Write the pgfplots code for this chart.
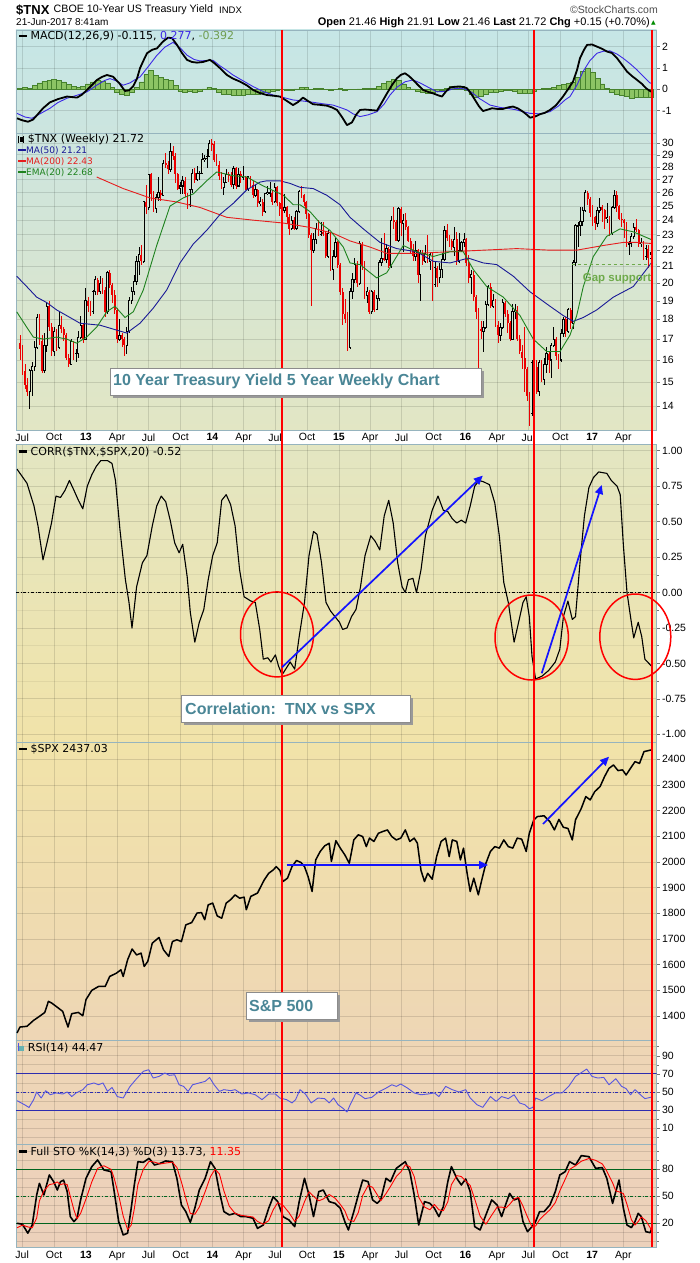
\documentclass[border=0pt]{standalone}
\usepackage{fontspec}
\setmainfont{Liberation Sans}
\newfontfamily\dv{DejaVu Sans}
\usepackage{pgfplots}
\usepackage{pgfplotstable}
\pgfplotsset{compat=1.18}
\usetikzlibrary{arrows.meta}

\definecolor{bord}{RGB}{150,180,190}
\definecolor{bgA}{RGB}{198,230,230}
\definecolor{bgB}{RGB}{204,229,223}
\definecolor{bgC}{RGB}{226,230,196}
\definecolor{bgD}{RGB}{227,230,194}
\definecolor{bgE}{RGB}{241,227,169}
\definecolor{bgF}{RGB}{238,214,181}
\definecolor{bgG}{RGB}{237,211,185}
\definecolor{bgH}{RGB}{236,209,187}
\definecolor{boxtext}{RGB}{74,134,150}
\definecolor{gapgreen}{RGB}{110,170,75}
\definecolor{macdblue}{RGB}{60,40,230}
\definecolor{histfill}{RGB}{140,196,100}
\definecolor{histdraw}{RGB}{70,130,45}
\definecolor{rsiblue}{RGB}{85,85,225}
\definecolor{lineblue}{RGB}{45,45,175}
\definecolor{stogreen}{RGB}{0,100,30}
\definecolor{ma50}{RGB}{25,25,150}
\definecolor{ma200}{RGB}{230,30,30}
\definecolor{ema20}{RGB}{30,130,30}
\definecolor{candred}{RGB}{235,0,0}
\definecolor{arrowblue}{RGB}{20,20,255}
\definecolor{candin}{RGB}{215,230,210}

\pgfplotsset{
  panel/.style={
    scale only axis, width=640.5pt, anchor=north west,
    xmin=16, xmax=656.5,
    xtick={22.2,54.1,85.9,117.1,148.6,180.5,212.4,243.6,275.1,307.0,338.9,370.1,401.6,433.5,465.4,496.9,528.4,560.3,592.2,623.4},
    xticklabels={},
    xmajorgrids=true, ymajorgrids=true,
    major grid style={black, opacity=0.12, line width=0.8pt},
    minor grid style={black, opacity=0.06, line width=0.6pt},
    axis line style={draw=bord, line width=0.9pt},
    xtick pos=left, ytick pos=right, yticklabel pos=right,
    tick align=outside, major tick length=3pt, minor tick length=2pt,
    xtick style={draw=none},
    ytick style={draw=black!55, line width=0.4pt},
    yticklabel style={font=\fontsize{10.5}{12}\selectfont, xshift=-1pt},
    xticklabel style={font=\fontsize{10.5}{12}\selectfont, yshift=3pt},
    clip=true,
  },
  xlabels/.style={xticklabels={Jul,Oct,\textbf{13},Apr,Jul,Oct,\textbf{14},Apr,Jul,Oct,\textbf{15},Apr,Jul,Oct,\textbf{16},Apr,Jul,Oct,\textbf{17},Apr}},
}

\newcommand\lgf{\dv\fontsize{11}{12}\selectfont}
\newcommand\lgs{\dv\fontsize{9}{10}\selectfont}

\begin{document}

\pgfplotstableread{
w o h l c
0 16.8 17.2 16.0 16.5
1 16.5 16.7 15.3 15.5
2 15.5 15.8 14.7 14.9
3 14.9 15.2 14.4 14.6
4 14.6 15.6 13.9 15.5
5 15.5 15.9 14.4 15.7
6 15.7 16.9 15.5 16.6
7 16.6 18.3 16.5 18.1
8 18.1 18.3 16.7 16.9
9 16.9 17.2 15.4 15.5
10 15.5 17.3 15.4 16.7
11 16.7 18.9 16.4 18.7
12 18.7 19.0 17.4 17.6
13 17.6 17.8 16.2 16.4
14 16.4 17.6 16.2 17.4
15 17.4 17.5 16.4 16.6
16 16.6 18.4 16.5 17.7
17 17.7 18.2 17.3 17.5
18 17.5 17.6 16.9 17.2
19 17.2 17.3 16.0 16.1
20 16.1 16.3 15.7 15.8
21 15.8 17.0 15.8 16.9
22 16.9 16.9 16.0 16.2
23 16.2 16.5 15.9 16.3
24 16.3 17.4 16.1 17.1
25 17.1 18.2 17.0 17.7
26 17.7 17.8 16.8 17.0
27 17.0 19.7 17.0 19.0
28 19.0 19.2 18.4 18.7
29 18.7 19.0 18.2 18.4
30 18.4 19.6 18.3 19.5
31 19.5 20.4 19.3 20.2
32 20.2 20.3 19.3 19.5
33 19.5 20.4 19.4 20.0
34 20.0 20.3 19.4 19.6
35 19.6 19.8 18.1 18.4
36 18.4 20.7 18.3 20.6
37 20.6 20.8 19.7 19.9
38 19.9 20.0 18.9 19.3
39 19.3 19.6 18.3 18.5
40 18.5 18.6 16.8 17.0
41 17.0 18.0 16.9 17.2
42 17.2 17.3 16.6 17.0
43 17.0 17.1 16.2 16.7
44 16.7 17.6 16.3 17.4
45 17.4 19.2 17.3 19.0
46 19.0 19.8 18.8 19.5
47 19.5 20.5 19.3 20.1
48 20.1 21.6 19.9 21.3
49 21.3 22.2 20.5 21.7
50 21.7 22.3 21.1 21.3
51 21.3 25.4 21.2 25.3
52 25.3 26.6 24.4 24.9
53 24.9 27.4 24.7 27.4
54 27.4 27.5 25.4 25.9
55 25.9 26.1 24.6 24.8
56 24.8 25.9 24.5 25.6
57 25.6 27.2 25.4 26.0
58 26.0 26.2 25.4 25.8
59 25.8 28.6 25.8 28.3
60 28.3 29.2 27.9 28.2
61 28.2 28.5 27.4 27.8
62 27.8 30.0 27.6 29.3
63 29.3 29.8 28.6 28.9
64 28.9 29.2 26.7 27.4
65 27.4 27.5 26.2 26.3
66 26.3 26.8 25.9 26.5
67 26.5 27.3 25.9 26.9
68 26.9 27.2 25.7 25.9
69 25.9 26.0 24.8 25.1
70 25.1 26.3 24.9 26.2
71 26.2 27.8 26.0 27.5
72 27.5 27.9 26.7 27.0
73 27.0 28.1 26.9 27.5
74 27.5 27.7 27.0 27.5
75 27.5 29.2 27.4 28.6
76 28.6 29.0 28.4 28.7
77 28.7 29.5 27.9 28.9
78 28.9 30.3 28.8 30.0
79 30.0 30.4 29.3 29.9
80 29.9 30.2 28.4 28.6
81 28.6 29.1 28.1 28.2
82 28.2 28.5 27.0 27.3
83 27.3 27.6 26.3 26.4
84 26.4 27.2 25.8 26.8
85 26.8 27.8 26.7 27.4
86 27.4 27.6 26.8 27.3
87 27.3 27.6 26.4 26.6
88 26.6 28.1 26.3 27.9
89 27.9 28.0 26.3 26.5
90 26.5 27.9 26.5 27.4
91 27.4 27.7 26.7 27.2
92 27.2 28.1 27.0 27.2
93 27.2 27.3 26.2 26.2
94 26.2 27.3 26.1 27.2
95 27.2 27.3 26.4 26.6
96 26.6 26.9 25.6 25.8
97 25.8 26.6 25.7 26.2
98 26.2 26.3 24.9 25.2
99 25.2 25.7 25.0 25.3
100 25.3 25.5 24.3 24.6
101 24.6 26.0 24.5 25.9
102 25.9 26.5 25.8 26.0
103 26.0 26.8 25.7 26.0
104 26.0 26.2 25.1 25.3
105 25.3 26.7 25.2 26.4
106 26.4 26.5 25.0 25.2
107 25.2 25.3 24.3 24.8
108 24.8 25.2 24.4 24.7
109 24.7 25.9 24.5 24.9
110 24.9 25.0 23.7 24.2
111 24.2 24.4 23.0 23.4
112 23.4 24.3 23.3 24.0
113 24.0 24.2 23.3 23.4
114 23.4 24.7 23.3 24.6
115 24.6 26.2 24.5 26.1
116 26.1 26.5 25.6 25.8
117 25.8 25.9 25.0 25.3
118 25.3 25.4 24.1 24.4
119 24.4 24.5 22.8 23.0
120 23.0 23.1 18.7 22.0
121 22.0 23.1 21.8 22.7
122 22.7 23.8 22.4 23.4
123 23.4 24.0 22.9 23.0
124 23.0 23.9 22.9 23.2
125 23.2 23.9 22.9 23.1
126 23.1 23.2 21.5 21.6
127 21.6 23.3 21.5 23.1
128 23.1 23.2 20.7 20.8
129 20.8 22.0 20.2 21.6
130 21.6 22.8 21.5 22.5
131 22.5 22.6 20.9 21.1
132 21.1 21.2 19.3 19.5
133 19.5 19.7 17.7 18.3
134 18.3 19.1 17.8 18.0
135 18.0 18.4 16.4 16.6
136 16.6 19.7 16.5 19.5
137 19.5 20.6 19.1 20.2
138 20.2 21.5 20.0 21.1
139 21.1 21.3 19.8 20.0
140 20.0 22.6 19.9 22.4
141 22.4 22.5 20.8 21.1
142 21.1 21.3 19.1 19.3
143 19.3 19.8 18.9 19.5
144 19.5 19.6 18.3 18.4
145 18.4 19.6 18.3 19.5
146 19.5 19.6 18.4 18.5
147 18.5 19.3 18.5 19.1
148 19.1 21.4 19.0 21.2
149 21.2 22.8 21.0 21.5
150 21.5 23.1 21.3 21.4
151 21.4 22.4 21.2 22.1
152 22.1 22.2 20.9 21.0
153 21.0 24.3 20.9 24.0
154 24.0 24.9 23.4 23.9
155 23.9 24.0 22.6 22.6
156 22.6 24.9 22.5 24.8
157 24.8 24.9 22.9 23.8
158 23.8 24.4 21.9 24.0
159 24.0 24.5 23.3 23.5
160 23.5 23.6 22.5 22.6
161 22.6 22.8 21.8 22.0
162 22.0 22.4 21.3 21.6
163 21.6 22.6 21.3 22.0
164 22.0 22.1 20.0 20.5
165 20.5 22.0 19.0 21.8
166 21.8 22.0 21.1 21.3
167 21.3 22.3 21.2 21.8
168 21.8 23.0 21.2 21.3
169 21.3 21.8 20.8 21.7
170 21.7 21.8 19.0 19.9
171 19.9 21.3 19.8 20.9
172 20.9 21.0 19.8 20.3
173 20.3 21.2 20.0 20.8
174 20.8 21.8 20.3 21.4
175 21.4 23.6 21.3 23.3
176 23.3 23.7 22.6 22.8
177 22.8 23.0 22.2 22.6
178 22.6 22.7 22.0 22.2
179 22.2 23.5 21.6 22.7
180 22.7 23.2 21.1 21.3
181 21.3 23.1 21.2 22.0
182 22.0 22.6 21.9 22.5
183 22.5 23.1 22.2 22.7
184 22.7 22.8 21.0 21.2
185 21.2 21.7 20.0 20.3
186 20.3 20.8 19.4 20.5
187 20.5 20.7 19.0 19.2
188 19.2 19.3 18.0 18.4
189 18.4 18.6 15.3 17.5
190 17.5 17.9 17.0 17.4
191 17.4 17.9 16.4 17.6
192 17.6 19.0 17.5 18.8
193 18.8 19.9 18.7 19.8
194 19.8 20.0 18.6 18.7
195 18.7 19.4 18.6 19.0
196 19.0 19.1 17.6 17.7
197 17.7 17.9 16.8 17.2
198 17.2 17.8 16.9 17.6
199 17.6 19.1 17.5 18.9
200 18.9 19.0 18.1 18.3
201 18.3 18.5 17.3 17.8
202 17.8 17.9 16.9 17.0
203 17.0 18.8 17.0 18.4
204 18.4 18.8 18.0 18.5
205 18.5 18.7 16.9 17.0
206 17.0 17.2 16.3 16.4
207 16.4 16.7 15.6 16.1
208 16.1 17.6 14.6 15.6
209 15.6 15.7 14.2 14.4
210 14.4 14.6 13.2 13.7
211 13.7 16.0 13.6 15.9
212 15.9 16.1 15.4 15.7
213 15.7 16.0 14.5 14.6
214 14.6 16.0 14.4 15.9
215 15.9 16.0 15.0 15.1
216 15.1 16.1 14.9 15.8
217 15.8 16.6 15.4 16.3
218 16.3 16.4 15.4 16.0
219 16.0 16.8 15.2 16.7
220 16.7 17.6 16.6 17.0
221 17.0 17.1 16.0 16.2
222 16.2 16.3 15.6 16.0
223 16.0 17.5 15.9 17.3
224 17.3 18.1 17.1 18.0
225 18.0 18.1 17.1 17.4
226 17.4 18.6 17.3 18.5
227 18.5 18.6 17.5 17.8
228 17.8 21.4 17.5 21.2
229 21.2 23.7 21.0 23.6
230 23.6 23.9 22.2 23.6
231 23.6 24.9 22.9 23.9
232 23.9 24.9 23.6 24.7
233 24.7 26.2 24.6 26.0
234 26.0 26.1 25.1 25.5
235 25.5 25.7 24.2 24.5
236 24.5 25.1 23.6 24.2
237 24.2 24.3 23.3 23.8
238 23.8 24.9 23.5 24.7
239 24.7 25.6 24.5 24.9
240 24.9 25.1 23.9 24.7
241 24.7 24.8 23.4 24.1
242 24.1 25.2 23.8 24.2
243 24.2 24.3 22.9 23.1
244 23.1 25.0 23.0 24.9
245 24.9 26.2 24.8 25.8
246 25.8 26.1 24.6 25.0
247 25.0 25.1 24.0 24.1
248 24.1 24.5 23.5 24.0
249 24.0 24.1 22.8 23.8
250 23.8 23.9 22.2 22.4
251 22.4 22.6 21.7 22.4
252 22.4 23.1 22.2 22.9
253 22.9 23.8 22.7 23.5
254 23.5 24.1 23.2 23.3
255 23.3 23.4 22.2 22.4
256 22.4 22.8 22.2 22.5
257 22.5 22.6 21.4 21.6
258 21.6 22.3 21.4 22.1
259 22.1 22.3 20.9 21.5
260 21.5 21.9 21.5 21.7
}\tnx

\pgfplotstableread{
p v
16.7 20.4
26.7 19.8
36.7 19.2
46.7 18.9
56.7 18.5
70 18.1
80 17.8
100 17.7
113.3 17.5
126.7 17.3
140 17.8
153.3 18.6
166.7 19.6
180 21.2
193.3 22.4
206.7 23.3
220 24.4
233.3 25.2
246.7 26.2
260 26.8
266.7 26.9
280 26.9
290 26.7
300 26.4
313.3 26.3
326.7 25.8
340 25.1
350 24.2
363.3 23.4
380 22.5
396.7 22.1
416.7 21.9
433.3 21.3
450 21.2
468.3 21.5
483.3 21.2
496.7 21.1
513.3 20.4
530 19.5
550 18.7
563.3 18.2
573.3 17.9
583.3 18.1
596.7 18.5
613.3 19.2
633.3 19.8
651.5 21.21
}\maL

\pgfplotstableread{
p v
96.7 27.2
123.3 26.3
150 25.6
176.7 25.3
200 24.9
226.7 24.2
253.3 24.0
283.3 23.8
310 23.5
333.3 23.1
350 22.6
370 22.2
386.7 21.8
416.7 21.8
450 21.9
483.3 22.0
516.7 22.1
550 22.0
576.7 22.0
603.3 22.3
623.3 22.5
636.7 22.5
651.5 22.43
}\maLL

\pgfplotstableread{
p v
16.7 18.4
26.7 17.6
33.3 17.1
43.3 17.0
56.7 17.1
66.7 17.0
76.7 16.8
86.7 17.1
96.7 17.6
106.7 18.4
115 18.7
125 18.1
133.3 18.4
143.3 19.6
156.7 22.3
170 25.0
183.3 25.6
193.3 25.9
206.7 26.9
216.7 27.6
233.3 27.3
246.7 27.2
263.3 26.5
283.3 25.8
293.3 25.1
300 25.1
310 24.6
320 23.8
330 23.3
343.3 22.2
350 21.2
360 21.1
376.7 20.3
386.7 20.6
403.3 22.3
416.7 21.9
433.3 21.6
450 21.9
463.3 21.9
473.3 20.8
486.7 19.8
503.3 19.2
520 18.2
533.3 17.0
546.7 16.4
560 16.4
570 17.2
576.7 18.2
583.3 19.8
593.3 21.6
606.7 22.9
620 23.4
633.3 23.2
651.5 22.68
}\ema

\pgfplotstableread[row sep=\\]{v\\0.05\\0.08\\0.05\\0.2\\0.3\\0.38\\0.42\\0.45\\0.42\\0.35\\0.22\\0.12\\0.1\\0.12\\0.25\\0.35\\0.42\\0.4\\0.3\\0.1\\-0.12\\-0.25\\-0.3\\-0.15\\0.1\\0.35\\0.7\\0.88\\0.65\\0.55\\0.45\\0.42\\0.2\\-0.08\\-0.12\\-0.1\\-0.15\\-0.1\\0.02\\0.1\\0.05\\-0.15\\-0.22\\-0.25\\-0.28\\-0.3\\-0.28\\-0.25\\-0.25\\-0.22\\-0.15\\-0.12\\-0.08\\-0.05\\-0.02\\-0.04\\-0.05\\0.02\\0.1\\0.08\\-0.02\\0.03\\0.05\\-0.02\\-0.05\\0.0\\0.03\\-0.05\\-0.02\\0.0\\0.02\\0.03\\0.05\\0.05\\0.12\\0.28\\0.4\\0.48\\0.42\\0.25\\0.1\\0.02\\-0.08\\-0.15\\-0.18\\-0.15\\-0.1\\-0.05\\0.05\\0.12\\0.15\\0.12\\-0.05\\-0.25\\-0.36\\-0.32\\-0.25\\-0.15\\-0.12\\-0.1\\-0.05\\-0.05\\-0.1\\-0.18\\-0.2\\-0.18\\-0.08\\-0.02\\0.03\\0.05\\0.1\\0.18\\0.22\\0.28\\0.35\\0.55\\0.85\\1.0\\0.8\\0.5\\0.25\\0.05\\-0.12\\-0.25\\-0.3\\-0.35\\-0.4\\-0.38\\-0.37\\-0.38\\-0.39\\}\hist

\begin{tikzpicture}[x=1pt,y=1pt]
\path[use as bounding box, fill=white] (0,0) rectangle (700,-1263);

% ---------------- MACD ----------------
\begin{axis}[panel, at={(16pt,-30pt)}, height=103pt,
  ymin=-2.05, ymax=2.78, ytick={-1,0,1,2}, yticklabels={-1,0,1,2},
  axis background/.style={top color=bgA, bottom color=bgB}]
\addplot[ybar, bar width=4.85pt, fill=histfill, draw=histdraw, line width=0.5pt]
  table[x expr=20.1+4.851*\coordindex, y=v] {\hist};
\addplot[macdblue, line width=0.9pt] coordinates {(17,-1.13)(25,-1.3)(32,-1.36)(40,-1.15)(50,-0.89)(58,-0.62)(67,-0.42)(77,-0.28)(87,-0.12)(97,0.2)(105,0.42)(110,0.5)(116,0.4)(123,0.19)(130,0.3)(135,0.45)(140,0.58)(148,1.05)(157,1.6)(165,1.98)(173,2.2)(180,1.95)(187,1.6)(194,1.4)(200,1.33)(207,1.35)(213,1.36)(220,1.1)(227,0.88)(233,0.67)(243,0.4)(253,0.13)(263,-0.1)(273,-0.27)(283,-0.38)(293,-0.5)(303,-0.55)(313,-0.61)(323,-0.68)(333,-0.74)(340,-0.85)(347,-0.97)(353,-1.15)(360,-1.28)(368,-1.2)(377,-1.05)(384,-0.7)(390,-0.27)(397,0.1)(405,0.35)(413,0.44)(420,0.3)(428,0.1)(437,-0.12)(445,-0.1)(453,0.02)(460,0.05)(466,0.0)(472,-0.15)(480,-0.45)(490,-0.74)(500,-0.85)(507,-0.89)(515,-0.95)(523,-1.05)(530,-1.13)(540,-1.15)(550,-1.05)(558,-0.8)(565,-0.5)(570,-0.34)(577,0.2)(583,0.83)(590,1.35)(597,1.69)(603,1.78)(610,1.8)(617,1.65)(623,1.46)(630,1.2)(637,0.91)(643,0.62)(650,0.3)(651.5,0.277)};
\addplot[black, line width=1.8pt, line join=round] coordinates {(17,-1.36)(22,-1.45)(28,-1.52)(33,-1.42)(36.7,-1.23)(43,-0.89)(50,-0.61)(58,-0.46)(67,-0.34)(77,-0.39)(82,-0.25)(87,-0.03)(92,0.2)(97,0.44)(102,0.58)(107,0.67)(113,0.59)(119,0.3)(125,-0.08)(129,-0.05)(133,0.13)(137,0.5)(140,0.99)(144,1.4)(147,1.69)(152,1.85)(157,1.92)(163,2.24)(168,2.42)(172,2.4)(177,2.08)(182,1.7)(187,1.38)(192,1.28)(197,1.25)(203,1.28)(210,1.38)(215,1.2)(220,0.99)(227,0.67)(233,0.5)(240,0.36)(247,0.18)(253,-0.03)(260,-0.18)(267,-0.27)(273,-0.3)(280,-0.34)(287,-0.55)(293,-0.74)(298,-0.6)(303,-0.39)(308,-0.55)(313,-0.7)(320,-0.73)(327,-0.77)(332,-0.85)(337,-0.97)(342,-1.3)(347,-1.68)(352,-1.55)(356,-1.2)(360,-0.97)(365,-0.95)(370,-0.97)(377,-1.0)(382,-0.6)(387,-0.19)(392,0.2)(397,0.52)(401,0.68)(405,0.75)(409,0.62)(413,0.44)(418,0.2)(423,-0.03)(428,-0.12)(433,-0.19)(438,-0.28)(442,-0.34)(446,-0.1)(450,0.08)(455,0.12)(460,0.13)(464,0.1)(467,0.05)(471,-0.2)(475,-0.5)(479,-0.8)(483,-1.02)(488,-0.95)(492,-0.89)(497,-0.92)(503,-0.92)(508,-0.85)(513,-0.81)(518,-0.9)(523,-1.05)(527,-1.2)(530,-1.33)(535,-1.28)(540,-1.17)(545,-1.1)(550,-0.97)(556,-0.75)(563,-0.34)(568,0.0)(573,0.36)(577,0.9)(580,1.46)(584,1.85)(587,2.08)(592,2.1)(597,2.0)(602,1.9)(607,1.77)(612,1.7)(617,1.46)(622,1.15)(627,0.83)(632,0.62)(637,0.44)(642,0.25)(646,0.05)(650,-0.08)(651.5,-0.115)};
\end{axis}

% ---------------- PRICE ----------------
\begin{axis}[panel, xlabels, at={(16pt,-133pt)}, height=297pt,
  ymin=2.56955, ymax=3.43076,
  ytick={2.639057,2.708050,2.772589,2.833213,2.890372,2.944439,2.995732,3.044522,3.091042,3.135494,3.178054,3.218876,3.258097,3.295837,3.332205,3.367296,3.401197},
  yticklabels={14,15,16,17,18,19,20,21,22,23,24,25,26,27,28,29,30},
  axis background/.style={top color=bgB, bottom color=bgC}]
\addplot[draw=none, mark=none, forget plot,
  restrict expr to domain={\thisrow{c}-\thisrow{o}}{-1000:-0.0001},
  error bars/.cd, y dir=both, y explicit, error mark=none,
  error bar style={draw=candred, line width=0.7pt}]
  table[x expr=20.1+2.4255*\thisrow{w}, y expr={(ln(\thisrow{h})+ln(\thisrow{l}))/2}, y error expr={(ln(\thisrow{h})-ln(\thisrow{l}))/2}] {\tnx};
\addplot[draw=none, mark=none, forget plot,
  restrict expr to domain={\thisrow{c}-\thisrow{o}}{0:1000},
  error bars/.cd, y dir=both, y explicit, error mark=none,
  error bar style={draw=black, line width=0.7pt}]
  table[x expr=20.1+2.4255*\thisrow{w}, y expr={(ln(\thisrow{h})+ln(\thisrow{l}))/2}, y error expr={(ln(\thisrow{h})-ln(\thisrow{l}))/2}] {\tnx};
\addplot[draw=none, mark=none, forget plot,
  restrict expr to domain={\thisrow{c}-\thisrow{o}}{-1000:-0.0001},
  error bars/.cd, y dir=both, y explicit, error mark=none,
  error bar style={draw=candred, line width=1.8pt}]
  table[x expr=20.1+2.4255*\thisrow{w}, y expr={(ln(\thisrow{o})+ln(\thisrow{c}))/2}, y error expr={abs(ln(\thisrow{c})-ln(\thisrow{o}))/2}] {\tnx};
\addplot[draw=none, mark=none, forget plot,
  restrict expr to domain={\thisrow{c}-\thisrow{o}}{0:1000},
  error bars/.cd, y dir=both, y explicit, error mark=none,
  error bar style={draw=black, line width=2.3pt}]
  table[x expr=20.1+2.4255*\thisrow{w}, y expr={(ln(\thisrow{o})+ln(\thisrow{c}))/2}, y error expr={abs(ln(\thisrow{c})-ln(\thisrow{o}))/2+0.0015}] {\tnx};
\addplot[draw=none, mark=none, forget plot,
  restrict expr to domain={\thisrow{c}-\thisrow{o}}{0.0001:1000},
  error bars/.cd, y dir=both, y explicit, error mark=none,
  error bar style={draw=candin, line width=0.8pt}]
  table[x expr=20.1+2.4255*\thisrow{w}, y expr={(ln(\thisrow{o})+ln(\thisrow{c}))/2}, y error expr={max(abs(ln(\thisrow{c})-ln(\thisrow{o}))/2-0.0015,0)}] {\tnx};
\addplot[ma200, line width=0.9pt] table[x=p, y expr=ln(\thisrow{v})] {\maLL};
\addplot[ma50, line width=0.9pt] table[x=p, y expr=ln(\thisrow{v})] {\maL};
\addplot[ema20, line width=0.9pt] table[x=p, y expr=ln(\thisrow{v})] {\ema};
\addplot[gapgreen, dashed, line width=1.6pt] coordinates {(571.7,3.04927) (656.5,3.04927)};
\end{axis}

% ---------------- CORR ----------------
\begin{axis}[panel, at={(16pt,-444pt)}, height=298pt,
  ymin=-1.054, ymax=1.047,
  ytick={-1,-0.75,-0.5,-0.25,0,0.25,0.5,0.75,1},
  yticklabels={-1.00,-0.75,-0.50,-0.25,0.00,0.25,0.50,0.75,1.00},
  minor ytick={-0.875,-0.625,-0.375,-0.125,0.125,0.375,0.625,0.875},
  yminorgrids=true,
  axis background/.style={top color=bgD, bottom color=bgE}]
\addplot[black, dash dot, line width=0.8pt] coordinates {(16,0) (656.5,0)};
\addplot[black, line width=1.1pt, line join=round] coordinates {(17,0.87)(27,0.77)(34,0.61)(38,0.47)(43,0.23)(47,0.35)(51.5,0.49)(56,0.68)(60.5,0.67)(65,0.72)(69.4,0.79)(74,0.72)(78.4,0.65)(82.8,0.59)(87.3,0.75)(91.8,0.83)(96.3,0.89)(100.8,0.93)(107.5,0.93)(112,0.91)(115.5,0.79)(120,0.44)(125.4,0.09)(129,-0.07)(132,-0.25)(136.6,0.04)(142.4,0.21)(146.9,0.26)(152.3,0.47)(156.7,0.61)(161.2,0.68)(165.7,0.64)(170.2,0.51)(174.7,0.35)(179.1,0.28)(182.7,0.34)(187.2,0.11)(190.3,-0.14)(194.8,-0.35)(199.3,-0.21)(203.8,-0.12)(208.2,0.09)(212.7,0.26)(217.2,0.35)(221.7,0.65)(226.2,0.69)(230.6,0.62)(235.1,0.47)(239.6,0.16)(244.1,-0.03)(250.8,-0.06)(255.3,-0.07)(259.7,-0.26)(263.3,-0.47)(267.8,-0.46)(270.9,-0.49)(275.4,-0.44)(278.6,-0.52)(282.1,-0.58)(286.6,-0.53)(290.2,-0.49)(294.7,-0.54)(299.2,-0.31)(304.5,-0.07)(309,0.26)(313.5,0.43)(317,0.41)(321.5,0.21)(326,-0.07)(330.5,-0.13)(335,-0.17)(339.5,-0.21)(342.6,-0.26)(347,-0.25)(351.5,-0.17)(356,-0.12)(360.5,0.04)(365,0.26)(370.8,0.40)(375.3,0.36)(379.8,0.30)(384.2,0.54)(388.7,0.65)(393.2,0.49)(397.7,0.21)(402.1,0.04)(405.3,0.0)(408.4,0.09)(412.9,0.10)(416.5,0.0)(421,0.16)(425.4,0.40)(432.2,0.58)(438,0.68)(443.3,0.58)(447.8,0.57)(452.3,0.52)(456.8,0.49)(461.3,0.51)(465.7,0.49)(470.2,0.61)(474.7,0.75)(479.2,0.79)(483.7,0.78)(489.5,0.76)(494.8,0.63)(499.3,0.40)(503.8,0.07)(508.3,-0.07)(514.1,-0.35)(518.6,-0.21)(523,-0.07)(526.2,-0.03)(529.3,-0.17)(532,-0.45)(535.6,-0.61)(541.9,-0.59)(548.6,-0.55)(555.3,-0.49)(559.8,-0.40)(563.4,-0.17)(567.9,-0.06)(572.3,-0.19)(575.5,-0.17)(580,0.21)(584.4,0.54)(588.9,0.74)(593.4,0.81)(598.7,0.85)(606.8,0.84)(611.3,0.79)(617.1,0.75)(620.2,0.69)(623.4,0.33)(627,0.0)(630.5,-0.17)(633.7,-0.32)(638.2,-0.21)(641.7,-0.31)(644.9,-0.47)(651.6,-0.52)};
\end{axis}

% ---------------- SPX ----------------
\begin{axis}[panel, at={(16pt,-742.7pt)}, height=297.3pt,
  ymin=1306.5, ymax=2464.7,
  ytick={1400,1500,1600,1700,1800,1900,2000,2100,2200,2300,2400},
  yticklabels={1400,1500,1600,1700,1800,1900,2000,2100,2200,2300,2400},
  axis background/.style={top color=bgE, bottom color=bgF}]
\addplot[black, line width=1.5pt, line join=round] coordinates {(17,1334)(20,1357)(27,1360)(33.6,1383)(40.3,1401)(44.8,1414)(48.4,1457)(51.5,1451)(56,1438)(62.7,1418)(68,1357)(71.7,1409)(78.4,1414)(82.8,1401)(86,1464)(91.8,1500)(98.5,1515)(105.2,1515)(109.7,1554)(116.4,1567)(120.9,1580)(123.2,1554)(127.6,1619)(132.1,1661)(136.6,1638)(141.1,1645)(144.2,1593)(147.8,1613)(152.3,1684)(159,1706)(163.5,1658)(168.8,1632)(172.4,1690)(176.9,1697)(181.4,1690)(185.8,1755)(191.7,1764)(197,1801)(201.5,1803)(204.7,1775)(208.2,1833)(212.7,1840)(217.2,1790)(221.7,1781)(226.2,1840)(230.6,1853)(235.1,1872)(239.6,1859)(244.1,1863)(246.3,1814)(250.8,1866)(257.5,1879)(264.2,1930)(268.7,1956)(273.2,1969)(276.3,1982)(279.9,1967)(283,1924)(287.5,1937)(292,1982)(296.5,2006)(301,1998)(304.5,1982)(308.1,1943)(312.1,1885)(315.7,2008)(320.2,2041)(324.7,2063)(329.2,2073)(331.4,2002)(335.9,2083)(340.3,2054)(344.8,2028)(349.3,1995)(353.8,2086)(358.3,2106)(362.7,2099)(366.3,2060)(369.5,2093)(373.9,2080)(378.4,2112)(382.9,2119)(387.4,2125)(391.8,2099)(396.3,2086)(400.8,2093)(405.3,2125)(409.8,2080)(414.2,2093)(417.4,2073)(421,1967)(424.5,1924)(427.7,1956)(432.2,1933)(436.6,2021)(441.1,2080)(445.6,2093)(449.2,2021)(452.3,2086)(456.8,2080)(460.4,2008)(463.5,2054)(467.1,1956)(470.2,1885)(473.8,1937)(478.3,1872)(481.4,1924)(485.9,1995)(490.4,2041)(494.8,2060)(499.3,2054)(503.8,2086)(508.3,2060)(512.8,2054)(517.2,2093)(521.7,2089)(526.2,2041)(529.3,2112)(533.8,2164)(537.4,2177)(544.1,2180)(549.9,2157)(554.4,2125)(558.9,2166)(563.4,2135)(567.9,2131)(572.3,2086)(575.5,2164)(581.3,2209)(585.8,2255)(590.2,2242)(594.7,2274)(600.1,2294)(604.6,2333)(609,2365)(613.5,2378)(618,2356)(622.5,2359)(626.1,2339)(630.5,2365)(635,2391)(639.5,2384)(644,2430)(648.4,2434)(651.6,2437)};
\end{axis}

% ---------------- RSI ----------------
\begin{axis}[panel, at={(16pt,-1040pt)}, height=104.3pt,
  ymin=-7.6, ymax=107.3,
  ytick={10,30,50,70,90}, yticklabels={10,30,50,70,90},
  minor ytick={0,20,40,60,80,100}, yminorgrids=true,
  minor grid style={black, opacity=0.12, line width=0.8pt},
  axis background/.style={top color=bgF, bottom color=bgG}]
\addplot[lineblue, line width=1.1pt] coordinates {(16,70) (656.5,70)};
\addplot[lineblue, line width=1.1pt] coordinates {(16,30) (656.5,30)};
\addplot[lineblue, dash dot, line width=1pt] coordinates {(16,50) (656.5,50)};
\addplot[rsiblue, line width=0.9pt, line join=round] coordinates {(17,40.5)(24.6,36)(29,33)(33.6,41.5)(36.7,50)(41.2,43.4)(45.7,51.5)(50.2,47)(56,49)(62.7,47.8)(67.2,50)(71.7,45)(76.1,49)(82.8,52.6)(87.3,58)(94,60)(98.5,58)(103,60)(107.5,50.7)(112,55)(117.3,45)(123.2,43.4)(129.9,56)(136.6,64.7)(143.3,72.8)(148.7,74.6)(153.2,65.4)(159,67.2)(164.8,71)(169.3,68.4)(174.7,69)(179.1,58)(183.6,56.2)(188.1,50.7)(192.6,58)(199.3,60)(205.1,61.7)(209.6,66)(214.1,58)(219.4,50.7)(223.9,52.6)(230.6,51.5)(235.1,52.6)(241.8,47.8)(248.5,49)(255.3,47)(262,41.6)(268.7,47.8)(275.4,47.8)(279.9,43.4)(286.6,41.6)(292,38)(295.6,41.6)(300,52.6)(305.4,47.8)(311.2,38)(318,43.4)(324.7,42.7)(329.2,38)(333.6,43.4)(338.1,36)(342.6,32.4)(347,28)(350.2,36)(356,49)(360.5,46.3)(365,42.7)(371.7,44.1)(378.4,50)(385.1,53.7)(391.8,58)(396.3,56.2)(400.8,58.8)(407.5,54.4)(414.2,49)(421,47)(427.7,47.8)(434.4,49)(438.9,45)(445.6,56.2)(452.3,52.6)(459,50)(465.7,52.6)(470.2,43.4)(477,36)(482.8,33.1)(490.4,45)(496.2,39.7)(501.6,45)(508.3,42.7)(514.1,47)(519.5,38)(524.9,36)(529.3,31.6)(532.9,33.1)(535.6,43.4)(541.9,40.5)(548.6,45)(555.3,49)(562,49)(568.7,56.2)(575.5,67.2)(582.2,72)(586.7,75.3)(592,67.2)(597.8,65.4)(603.7,66.1)(609,58)(615.8,64.7)(621.6,56.2)(626.1,53.7)(630.5,47)(635,52.6)(640.4,47)(644.9,42.7)(650.2,44.1)(651.5,44.47)};
\end{axis}

% ---------------- STO ----------------
\begin{axis}[panel, xlabels, at={(16pt,-1144.3pt)}, height=103pt,
  ymin=-6.7, ymax=107.8,
  ytick={20,50,80}, yticklabels={20,50,80},
  minor ytick={0,10,30,40,60,70,90,100}, yminorgrids=true,
  minor grid style={black, opacity=0.12, line width=0.8pt},
  axis background/.style={top color=bgG, bottom color=bgH}]
\addplot[stogreen, line width=1.1pt] coordinates {(16,80) (656.5,80)};
\addplot[stogreen, line width=1.1pt] coordinates {(16,20) (656.5,20)};
\addplot[stogreen, dash dot, line width=1pt] coordinates {(16,50) (656.5,50)};
\addplot[black, line width=1.6pt, line join=round] coordinates {(17,20)(22.4,19)(27.8,9)(32.2,18)(36.7,51.5)(39.4,64.4)(43.9,51.5)(49.3,73.7)(53.7,66.3)(57.3,57)(60.5,66.3)(63.6,68)(67.2,55.2)(70.3,27.4)(73.9,21.9)(77,25.6)(80.6,46)(86,70)(91.8,83)(97.6,90.4)(103.9,79.3)(111.1,77.4)(114.2,55.2)(118.7,21.9)(123.2,7)(127.6,9)(131.2,36.7)(134.3,62.6)(137.9,88.5)(143.3,87.8)(149.1,92.2)(154.5,84.8)(160.3,86.7)(165.7,89.3)(172.4,88.5)(176.9,70)(181.4,40.4)(185.8,33)(190.3,21.1)(194.8,36.7)(199.3,57)(205.1,70)(210.5,88.5)(215,81.1)(219.4,55.2)(223.9,33)(229.3,29.3)(235.1,31.1)(240.9,27.4)(246.3,27.4)(253,25.6)(257.5,14.4)(263.3,18.1)(268.7,36.7)(273.2,49.6)(277.7,44.1)(283,27.4)(288.9,23.7)(294.7,16.3)(299.2,44.1)(304.5,70)(309,51.5)(313.5,27.4)(318.8,55.2)(323.3,57)(329.2,44.1)(335,42.2)(340.3,36.7)(344.8,21.9)(348.4,12.6)(353.8,33)(358.3,51.5)(362.7,68.1)(368.1,66.3)(372.6,46)(377.1,42.2)(380.7,46)(386,70)(390.5,66.3)(396.3,81.1)(400.8,84.8)(405.3,88.5)(409.8,77.4)(414.2,51.5)(418.7,18.1)(424.5,44.1)(429.9,42.2)(434.4,36.7)(438.9,27.4)(443.3,38.5)(447.8,66.3)(451.4,83)(456.8,70)(461.3,62.6)(465.7,69.3)(470.2,55.2)(474.7,16.3)(480.1,12.6)(485.9,29.3)(491.7,46)(497.1,40.4)(501.6,27.4)(506.1,42.2)(509.6,53.3)(514.1,46)(518.6,47.8)(523,21.9)(527.5,10.7)(532,16.3)(535.6,21.9)(539.6,33)(544.1,33)(549.9,40.4)(555.3,55.2)(559.8,73.7)(565.2,77.4)(569.6,88.5)(575.5,84.8)(581.3,95.2)(588.9,94.1)(595.6,81.1)(602.3,81.9)(606.8,70)(612.6,42.2)(615.8,55.2)(619,68.1)(623.4,36.7)(627,18.1)(631.4,15.2)(635,21.9)(638.2,31.1)(641.3,27.4)(645.8,10.7)(650.2,9.6)(651.5,13.7)};
\addplot[red, line width=0.9pt, line join=round] coordinates {(17,15)(22.4,18)(27.8,16)(32.2,15)(36.7,26)(39.4,45)(43.9,56)(49.3,63)(53.7,64)(57.3,66)(60.5,63)(63.6,64)(67.2,63)(70.3,50)(73.9,35)(77,25)(80.6,31)(86,47)(91.8,66)(97.6,81)(103.9,84)(111.1,80)(114.2,70)(118.7,51)(123.2,28)(127.6,13)(131.2,18)(134.3,36)(137.9,63)(143.3,80)(149.1,89)(154.5,88)(160.3,86)(165.7,87)(172.4,88)(176.9,82)(181.4,66)(185.8,48)(190.3,31)(194.8,30)(199.3,38)(205.1,55)(210.5,72)(215,80)(219.4,75)(223.9,56)(229.3,39)(235.1,31)(240.9,29)(246.3,28)(253,27)(257.5,22)(263.3,19)(268.7,23)(273.2,35)(277.7,43)(283,40)(288.9,32)(294.7,22)(299.2,28)(304.5,44)(309,55)(313.5,50)(318.8,45)(323.3,47)(329.2,52)(335,48)(340.3,41)(344.8,34)(348.4,24)(353.8,22)(358.3,32)(362.7,51)(368.1,62)(372.6,60)(377.1,52)(380.7,45)(386,53)(390.5,61)(396.3,72)(400.8,77)(405.3,85)(409.8,83)(414.2,72)(418.7,49)(424.5,38)(429.9,35)(434.4,41)(438.9,35)(443.3,34)(447.8,44)(451.4,63)(456.8,73)(461.3,72)(465.7,67)(470.2,62)(474.7,47)(480.1,28)(485.9,19)(491.7,29)(497.1,38)(501.6,38)(506.1,37)(509.6,41)(514.1,47)(518.6,49)(523,39)(527.5,27)(532,16)(535.6,17)(539.6,24)(544.1,29)(549.9,35)(555.3,43)(559.8,56)(565.2,69)(569.6,80)(575.5,84)(581.3,89)(588.9,92)(595.6,90)(602.3,86)(606.8,78)(612.6,65)(615.8,56)(619,55)(623.4,53)(627,41)(631.4,24)(635,18)(638.2,22)(641.3,27)(645.8,23)(650.2,15)(651.5,11.35)};
\end{axis}

% ---------------- header ----------------
\node[anchor=west, inner sep=0pt, font=\bfseries\fontsize{13}{14}\selectfont] at (16,-10) {\$TNX};
\node[anchor=west, inner sep=0pt, font=\fontsize{10.7}{12}\selectfont] at (53.5,-10) {CBOE 10-Year US Treasury Yield};
\node[anchor=west, inner sep=0pt, font=\fontsize{9.5}{11}\selectfont] at (219,-10) {INDX};
\node[anchor=east, inner sep=0pt, font=\fontsize{10.5}{12}\selectfont, text=black!70] at (658,-10) {\textcopyright StockCharts.com};
\node[anchor=west, inner sep=0pt, font=\fontsize{10}{12}\selectfont] at (16,-22.5) {21-Jun-2017 8:41am};
\node[anchor=east, inner sep=0pt, font=\fontsize{11}{12}\selectfont] at (650,-22.5) {\textbf{Open} 21.46 \textbf{High} 21.91 \textbf{Low} 21.46 \textbf{Last} 21.72 \textbf{Chg} +0.15 (+0.70\%)};
\node[anchor=west, inner sep=0pt, text=green!55!black, font=\dv\fontsize{6}{7}\selectfont] at (651,-23) {▲};

% ---------------- panel legends ----------------
\node[anchor=west, inner sep=0pt, font=\lgf] at (19,-36) {\rule[2.5pt]{8pt}{2.4pt} MACD(12,26,9) -0.115, \textcolor{macdblue}{0.277}, \textcolor{histfill!80!black}{-0.392}};
\node[anchor=west, inner sep=0pt, font=\lgf] at (18,-139.5) {\rule{1.2pt}{7pt}\hspace{1pt}\rule[1pt]{2.2pt}{5pt}\hspace{0.5pt}\rule{1.2pt}{7pt} \$TNX (Weekly) 21.72};
\node[anchor=west, inner sep=0pt, font=\lgs, text=ma50] at (18,-150.7) {\rule[2.5pt]{8pt}{2.2pt}MA(50) 21.21};
\node[anchor=west, inner sep=0pt, font=\lgs, text=ma200] at (18,-161.7) {\rule[2.5pt]{8pt}{2.2pt}MA(200) 22.43};
\node[anchor=west, inner sep=0pt, font=\lgs, text=ema20] at (18,-172.7) {\rule[2.5pt]{8pt}{2.2pt}EMA(20) 22.68};
\node[anchor=west, inner sep=0pt, font=\lgf] at (19,-451.7) {\rule[2.5pt]{8pt}{2.4pt} CORR(\$TNX,\$SPX,20) -0.52};
\node[anchor=west, inner sep=0pt, font=\lgf] at (19,-749.3) {\rule[2.5pt]{8pt}{2.4pt} \$SPX 2437.03};
\node[anchor=west, inner sep=0pt, font=\lgf] at (18,-1047.7) {\textcolor{rsiblue}{\rule{1.2pt}{8pt}}\textcolor{teal!60}{\rule{5pt}{5pt}} RSI(14) 44.47};
\node[anchor=west, inner sep=0pt, font=\lgf] at (19,-1151.7) {\rule[2.5pt]{8pt}{2.4pt} Full STO \%K(14,3) \%D(3) 13.73, \textcolor{red}{11.35}};

% ---------------- red marker lines ----------------
\draw[red, line width=2pt] (282,-30) -- (282,-1247.3);
\draw[red, line width=2pt] (534,-30) -- (534,-1247.3);
\draw[red, line width=2pt] (651.5,-30) -- (651.5,-1247.3);

% ---------------- annotations ----------------
\node[anchor=center, inner sep=0pt, font=\bfseries\fontsize{11.5}{13}\selectfont, text=gapgreen] at (617,-278.5) {Gap support};

\fill[black!40] (113,-371) rectangle (484,-398);
\draw[fill=white, draw=black!45, line width=0.7pt] (110,-368) rectangle (481,-395);
\node[anchor=west, inner sep=0pt, text=boxtext, font=\bfseries\fontsize{16}{18}\selectfont] at (113,-381.5) {10 Year Treasury Yield 5 Year Weekly Chart};

\fill[black!40] (184,-698) rectangle (413,-725);
\draw[fill=white, draw=black!45, line width=0.7pt] (181,-695) rectangle (410,-722);
\node[anchor=west, inner sep=0pt, text=boxtext, font=\bfseries\fontsize{16}{18}\selectfont] at (185,-708.5) {Correlation:\ \ TNX vs SPX};

\fill[black!40] (249,-995) rectangle (340,-1022);
\draw[fill=white, draw=black!45, line width=0.7pt] (246,-992) rectangle (337,-1019);
\node[anchor=west, inner sep=0pt, text=boxtext, font=\bfseries\fontsize{16}{18}\selectfont] at (249,-1005.5) {S\&P 500};

\draw[red, line width=1.5pt] (277,-634.4) ellipse [x radius=36.5, y radius=42.5];
\draw[red, line width=1.5pt] (531.7,-637.5) ellipse [x radius=36.7, y radius=42.5];
\draw[red, line width=1.5pt] (635.3,-636.7) ellipse [x radius=35.5, y radius=42.7];

\draw[arrowblue, line width=1.7pt, -{Triangle[length=9pt, width=8pt]}] (282,-667.3) -- (482.8,-475.6);
\draw[arrowblue, line width=1.7pt, -{Triangle[length=9pt, width=8pt]}] (541.7,-673.3) -- (601.7,-485);
\draw[arrowblue, line width=1.7pt, -{Triangle[length=9pt, width=8pt]}] (286.6,-865) -- (488,-865);
\draw[arrowblue, line width=1.7pt, -{Triangle[length=9pt, width=8pt]}] (543,-824) -- (609,-756.7);

\end{tikzpicture}
\end{document}
